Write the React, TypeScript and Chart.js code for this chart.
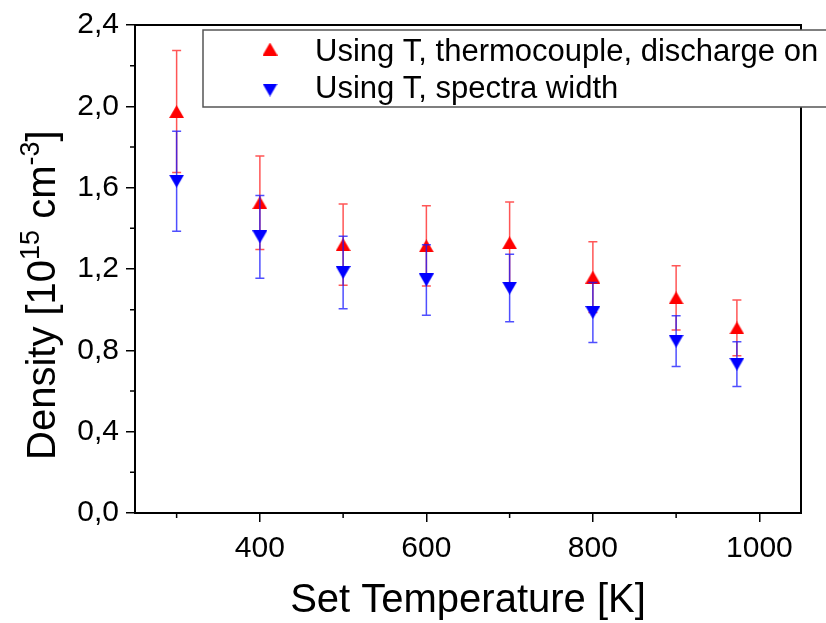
import React, { useEffect, useRef } from 'react';
import { Chart, registerables } from 'chart.js';

Chart.register(...registerables);

const temperatures = [300, 400, 500, 600, 700, 800, 900, 973];
const densityThermocouple = [1.974, 1.526, 1.32, 1.314, 1.329, 1.16, 1.058, 0.91];
const errorThermocouple = [0.3, 0.23, 0.2, 0.197, 0.2, 0.174, 0.158, 0.137];
const densitySpectra = [1.632, 1.358, 1.183, 1.146, 1.106, 0.986, 0.845, 0.732];
const errorSpectra = [0.246, 0.203, 0.178, 0.173, 0.166, 0.147, 0.125, 0.11];

const xMajorTicks = [400, 600, 800, 1000];
const xMinorTicks = [300, 500, 700, 900];
const yMajorTicks = [0, 0.4, 0.8, 1.2, 1.6, 2.0, 2.4];
const yMinorTicks = [0.2, 0.6, 1.0, 1.4, 1.8, 2.2];

const seriesLabels = ['Using T, thermocouple, discharge on', 'Using T, spectra width'];
const xTitle = 'Set Temperature [K]';

const FONT = '"Liberation Sans", Arial, sans-serif';

function makeTriangle(color: string, up: boolean): HTMLCanvasElement {
  const c = document.createElement('canvas');
  const w = 15;
  const h = 13;
  c.width = w;
  c.height = h;
  const ctx = c.getContext('2d')!;
  ctx.fillStyle = color;
  ctx.beginPath();
  if (up) {
    ctx.moveTo(w / 2, 0);
    ctx.lineTo(w, h);
    ctx.lineTo(0, h);
  } else {
    ctx.moveTo(0, 0);
    ctx.lineTo(w, 0);
    ctx.lineTo(w / 2, h);
  }
  ctx.closePath();
  ctx.fill();
  return c;
}

export default function App() {
  const canvasRef = useRef<HTMLCanvasElement | null>(null);

  useEffect(() => {
    if (!canvasRef.current) return;
    const redTri = makeTriangle('#ff0000', true);
    const blueTri = makeTriangle('#0000ff', false);
    const errors: Record<number, { vals: number[]; errs: number[]; color: string }> = {
      0: { vals: densityThermocouple, errs: errorThermocouple, color: 'rgba(255,30,30,0.75)' },
      1: { vals: densitySpectra, errs: errorSpectra, color: 'rgba(20,20,255,0.75)' },
    };

    const errorBarPlugin = {
      id: 'errorBars',
      beforeDatasetDraw(chart: any, args: any) {
        const e = errors[args.index];
        if (!e) return;
        const ctx = chart.ctx;
        const xs = chart.scales.x;
        const ys = chart.scales.y;
        ctx.save();
        ctx.strokeStyle = e.color;
        ctx.lineWidth = 1.5;
        temperatures.forEach((t, i) => {
          const x = xs.getPixelForValue(t);
          const yt = ys.getPixelForValue(e.vals[i] + e.errs[i]);
          const yb = ys.getPixelForValue(e.vals[i] - e.errs[i]);
          ctx.beginPath();
          ctx.moveTo(x, yt);
          ctx.lineTo(x, yb);
          ctx.moveTo(x - 4.5, yt);
          ctx.lineTo(x + 4.5, yt);
          ctx.moveTo(x - 4.5, yb);
          ctx.lineTo(x + 4.5, yb);
          ctx.stroke();
        });
        ctx.restore();
      },
    };

    const decorPlugin = {
      id: 'decor',
      afterDraw(chart: any) {
        const ctx = chart.ctx;
        const { left, right, top, bottom } = chart.chartArea;
        const xs = chart.scales.x;
        const ys = chart.scales.y;
        ctx.save();
        ctx.strokeStyle = '#000';
        ctx.lineWidth = 2;
        ctx.beginPath();
        ctx.moveTo(left - 1, top);
        ctx.lineTo(right, top);
        ctx.lineTo(right, bottom + 1);
        ctx.stroke();
        ctx.lineWidth = 1.5;
        ctx.beginPath();
        xMinorTicks.forEach((v) => {
          const x = xs.getPixelForValue(v);
          ctx.moveTo(x, bottom);
          ctx.lineTo(x, bottom + 5);
        });
        yMinorTicks.forEach((v) => {
          const y = ys.getPixelForValue(v);
          ctx.moveTo(left, y);
          ctx.lineTo(left - 5, y);
        });
        ctx.stroke();

        // legend
        ctx.fillStyle = '#fff';
        ctx.fillRect(203, 30, 700, 77);
        ctx.strokeStyle = '#555';
        ctx.lineWidth = 1.5;
        ctx.strokeRect(203, 30, 700, 77);
        ctx.drawImage(redTri, 270 - 7.5, 49 - 6.5);
        ctx.drawImage(blueTri, 270 - 7.5, 90 - 6.5);
        ctx.fillStyle = '#000';
        ctx.font = `31px ${FONT}`;
        ctx.textBaseline = 'alphabetic';
        ctx.textAlign = 'left';
        ctx.fillText(seriesLabels[0], 315, 61);
        ctx.fillText(seriesLabels[1], 315, 98);

        // x title
        ctx.font = `40px ${FONT}`;
        ctx.textAlign = 'center';
        ctx.fillText(xTitle, 468, 612);

        // y title with superscripts
        const segs: [string, boolean][] = [
          ['Density [10', false],
          ['15', true],
          [' cm', false],
          ['-3', true],
          [']', false],
        ];
        ctx.translate(55, 460);
        ctx.rotate(-Math.PI / 2);
        ctx.textAlign = 'left';
        let px = 0;
        segs.forEach(([s, sup]) => {
          ctx.font = sup ? `27px ${FONT}` : `40px ${FONT}`;
          ctx.fillText(s, px, sup ? -16 : 0);
          px += ctx.measureText(s).width;
        });
        ctx.restore();
      },
    };

    const tickFont = { family: FONT, size: 30 };

    const chart = new Chart(canvasRef.current, {
      type: 'scatter',
      data: {
        datasets: [
          {
            label: seriesLabels[0],
            data: temperatures.map((t, i) => ({ x: t, y: densityThermocouple[i] })),
            pointStyle: redTri as any,
            backgroundColor: '#ff0000',
            borderColor: '#ff0000',
            order: 2,
          },
          {
            label: seriesLabels[1],
            data: temperatures.map((t, i) => ({ x: t, y: densitySpectra[i] })),
            pointStyle: blueTri as any,
            backgroundColor: '#0000ff',
            borderColor: '#0000ff',
            order: 1,
          },
        ],
      },
      options: {
        responsive: false,
        animation: false,
        devicePixelRatio: 1,
        layout: { padding: { left: 0, top: 23, right: 25, bottom: 0 } },
        plugins: {
          legend: { display: false },
          tooltip: { enabled: false },
        },
        scales: {
          x: {
            type: 'linear',
            min: 250,
            max: 1050,
            afterBuildTicks: (scale: any) => {
              scale.ticks = xMajorTicks.map((v) => ({ value: v }));
            },
            afterFit: (scale: any) => {
              scale.height = 110;
            },
            ticks: {
              font: tickFont,
              color: '#000',
              padding: 9,
              maxRotation: 0,
              callback: (v: any) => String(v),
            },
            grid: {
              display: true,
              drawOnChartArea: false,
              drawTicks: true,
              tickLength: 9,
              color: '#000',
              lineWidth: 1.5,
            },
            border: { display: true, color: '#000', width: 2 },
          },
          y: {
            type: 'linear',
            min: 0,
            max: 2.4,
            afterBuildTicks: (scale: any) => {
              scale.ticks = yMajorTicks.map((v) => ({ value: v }));
            },
            afterFit: (scale: any) => {
              scale.width = 135;
            },
            ticks: {
              font: tickFont,
              color: '#000',
              padding: 7,
              callback: (v: any) => Number(v).toFixed(1).replace('.', ','),
            },
            grid: {
              display: true,
              drawOnChartArea: false,
              drawTicks: true,
              tickLength: 9,
              color: '#000',
              lineWidth: 1.5,
            },
            border: { display: true, color: '#000', width: 2 },
          },
        },
      },
      plugins: [errorBarPlugin, decorPlugin],
    });
    return () => chart.destroy();
  }, []);

  return (
    <div style={{ position: 'absolute', left: 0, top: 0, width: 826, height: 623, background: '#fff' }}>
      <canvas ref={canvasRef} width={826} height={623} style={{ display: 'block' }} />
    </div>
  );
}
